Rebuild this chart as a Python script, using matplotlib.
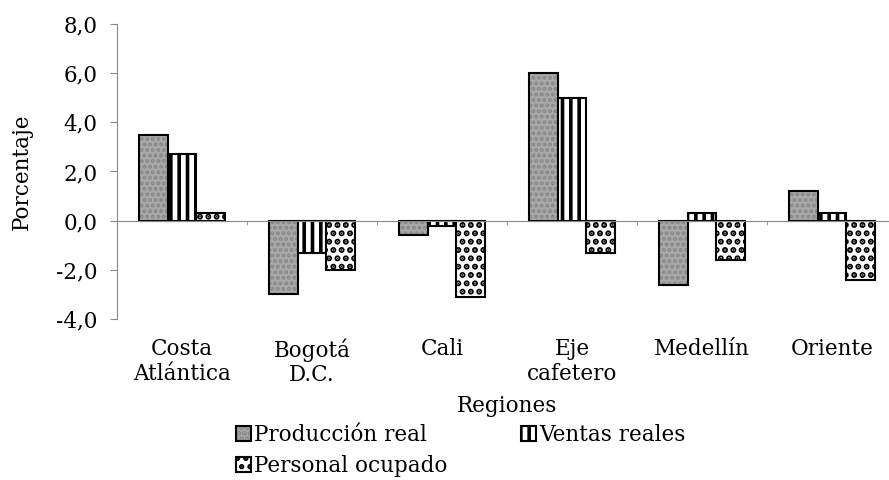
import matplotlib
matplotlib.use('Agg')
import matplotlib.pyplot as plt
import numpy as np

regiones = ['Costa\nAtlántica', 'Bogotá\nD.C.', 'Cali', 'Eje\ncafetero', 'Medellín', 'Oriente']
produccion = [3.5, -3.0, -0.6, 6.0, -2.6, 1.2]
ventas = [2.7, -1.3, -0.2, 5.0, 0.3, 0.3]
personal = [0.3, -2.0, -3.1, -1.3, -1.6, -2.4]
series_names = ['Producción real', 'Ventas reales', 'Personal ocupado']

plt.rcParams['font.family'] = ['DejaVu Serif']
plt.rcParams['font.size'] = 15.5
plt.rcParams['hatch.linewidth'] = 2.6

grey = '#8a8a8a'


def patterned_bars(ax, x, vals, w, face, hatch, hcolor, hlw):
    # pattern drawn first, black outline on top
    with plt.rc_context({'hatch.linewidth': hlw}):
        fill = ax.bar(x, vals, w, color=face, edgecolor=hcolor, hatch=hatch, linewidth=0)
    line = ax.bar(x, vals, w, color='none', edgecolor='black', linewidth=1.5)
    return fill, line


fig = plt.figure(figsize=(8.89, 4.80), dpi=100)
ax = fig.add_axes([117/889, 1 - 319/480, 780/889, 295/480])

x = np.arange(len(regiones))
w = 0.22
h1 = patterned_bars(ax, x - w, produccion, w, '#a9a9a9', '...', '#888888', 2.0)
h2 = patterned_bars(ax, x, ventas, w, 'white', '||', 'black', 2.6)
h3 = patterned_bars(ax, x + w, personal, w, 'white', '..', 'black', 3.0)

ax.set_xlim(-0.5, len(regiones) - 0.5)
ax.set_ylim(-4, 8)
ax.set_yticks(np.arange(-4, 8.1, 2))
ax.set_yticklabels([f'{v:.1f}'.replace('.', ',') for v in np.arange(-4, 8.1, 2)])
ax.set_ylabel('Porcentaje', labelpad=17)

for s in ['top', 'right']:
    ax.spines[s].set_visible(False)
ax.spines['left'].set_color(grey)
ax.spines['bottom'].set_color(grey)
ax.spines['bottom'].set_position(('data', 0))
ax.tick_params(axis='y', color=grey, length=5, pad=9)
ax.set_xticks(x)
ax.tick_params(axis='x', which='major', length=0, labelbottom=False)
ax.set_xticks(np.arange(len(regiones) + 1) - 0.5, minor=True)
ax.tick_params(axis='x', which='minor', color=grey, length=3, direction='out')

sec = ax.secondary_xaxis(0.0)
sec.set_xticks(x)
sec.set_xticklabels(regiones, linespacing=1.15)
sec.tick_params(length=0, pad=14)
sec.spines['bottom'].set_visible(False)
sec.set_xlabel('Regiones', labelpad=6)

handles = [h1, h3, h2]
labels = [series_names[0], series_names[2], series_names[1]]
fig.legend(handles, labels, ncol=2, loc='upper left', bbox_to_anchor=(236/889, 1 - 424/480),
           frameon=False, handlelength=0.7, handleheight=0.7, handletextpad=0.15,
           columnspacing=3.4, labelspacing=0.4, borderaxespad=0, borderpad=0)

fig.savefig('out.png', dpi=100)
